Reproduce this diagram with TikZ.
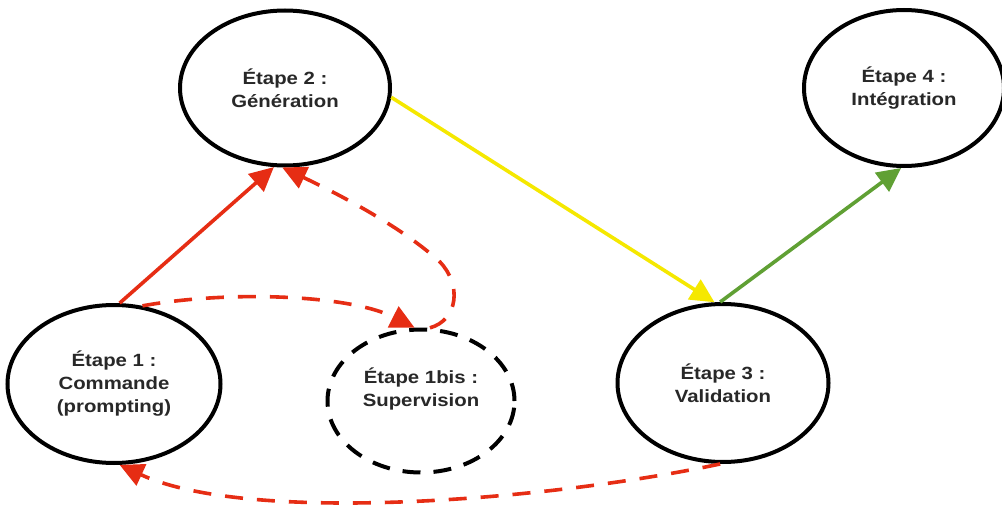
\documentclass[tikz,border=0pt]{standalone}
\usepackage{fontspec}
\newfontfamily\lbl{Liberation Sans}[FakeStretch=1.15]
\usetikzlibrary{arrows.meta,shapes.geometric}
\definecolor{cred}{RGB}{230,45,20}
\definecolor{cyel}{RGB}{245,232,0}
\definecolor{cgrn}{RGB}{96,160,52}
\definecolor{ctxt}{RGB}{40,40,40}
\begin{document}
\begin{tikzpicture}[x=1pt,y=-1pt,
  stage/.style={ellipse,draw=black,line width=4pt,inner sep=0pt,fill=white,
    align=center,text=ctxt,font=\lbl\bfseries\fontsize{17.7}{23}\selectfont},
  txt/.style={align=center,text=ctxt,inner sep=0pt,font=\lbl\bfseries\fontsize{17.7}{23}\selectfont},
  tip/.style={-{Triangle[length=24pt,width=23pt]}},
  conn/.style={line width=3.6pt,tip},
  dconn/.style={conn,dash pattern=on 18pt off 14pt},
]
\useasboundingbox (0,0) rectangle (1002,511);
\fill[white] (0,0) rectangle (1002,511);

\node[stage,minimum width=213pt,minimum height=158pt] (e1) at (114,384) {Étape 1 :\\Commande\\(prompting)};
\node[stage,minimum width=210pt,minimum height=155pt] (e2) at (285,88) {Étape 2 :\\Génération};
\node[stage,minimum width=211pt,minimum height=158pt] (e3) at (723,383) {Étape 3 :\\Validation};
\node[stage,minimum width=200pt,minimum height=156pt] (e4) at (904,88) {Étape 4 :\\Intégration};
\node[stage,dash pattern=on 18pt off 13pt,minimum width=187pt,minimum height=143pt] (e1b) at (421,401) {};
\node[txt] (t1b) at (421,389) {Étape 1bis :\\Supervision};

\draw[conn,cred] (e1.86) -- (e2.262);
\draw[conn,cyel] (e2.-5) -- (e3.96);
\draw[conn,cgrn] (e3.92) -- (e4.-92);
\draw[dconn,cred] (e1.70) .. controls (230,290) and (350,295) .. (e1b.95);
\draw[dconn,cred] (e1b.83) .. controls (458,320) and (462,285) .. (440,262)
   .. controls (400,225) and (330,190) .. (e2.268);
\draw[dconn,cred] (e3.-92) .. controls (550,500) and (250,525) .. (e1.-86);
\end{tikzpicture}
\end{document}
